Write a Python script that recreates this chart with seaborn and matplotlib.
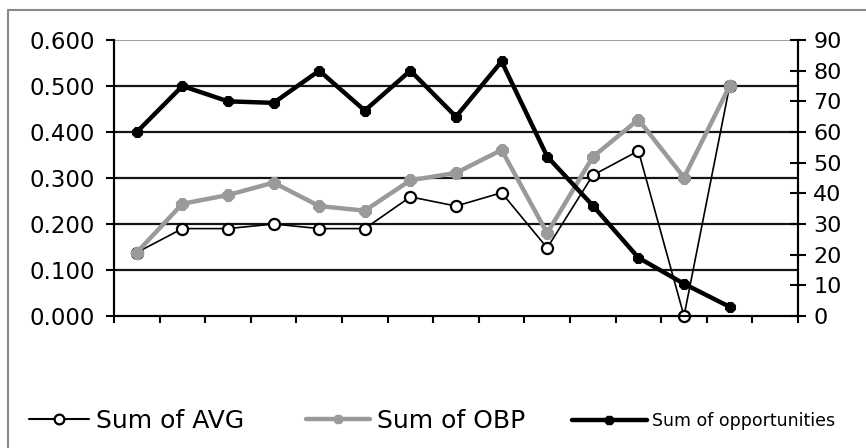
import matplotlib
matplotlib.use("Agg")
import matplotlib.pyplot as plt
from matplotlib.lines import Line2D
import seaborn as sns
import pandas as pd

# ---- data ----
games = list(range(1, 15))          # 14 plotted categories (15 slots on the axis)
n_slots = 15
avg = [0.138, 0.190, 0.190, 0.200, 0.190, 0.190, 0.259, 0.239, 0.268, 0.148, 0.306, 0.359, 0.000, 0.500]
obp = [0.138, 0.244, 0.263, 0.290, 0.239, 0.229, 0.295, 0.311, 0.361, 0.180, 0.346, 0.427, 0.301, 0.500]
opportunities = [60, 75, 70, 69.5, 80, 67, 80, 65, 83, 52, 36, 19, 10.5, 3]
left_ticks = [0.0, 0.1, 0.2, 0.3, 0.4, 0.5, 0.6]
right_ticks = [0, 10, 20, 30, 40, 50, 60, 70, 80, 90]
labels = ["Sum of AVG", "Sum of OBP", "Sum of opportunities"]

df = pd.DataFrame({"pos": [g - 1 for g in games], "AVG": avg, "OBP": obp, "OPP": opportunities})

sns.set_style("white")
plt.rcParams["font.family"] = ["DejaVu Sans"]
plt.rcParams["text.color"] = "black"

W, H = 866, 448
fig = plt.figure(figsize=(W / 100, H / 100), dpi=100)
ax = fig.add_axes([114 / W, 1 - 316 / H, 684 / W, 276 / H])
ax2 = ax.twinx()

# gridlines (left axis)
ax.set_axisbelow(True)
for v in left_ticks[1:-1]:
    ax.axhline(v, color="#151515", lw=1.6, zorder=0)
ax.axhline(left_ticks[-1], color="#8a8a8a", lw=1.2, zorder=0)

sns.lineplot(data=df, x="pos", y="AVG", ax=ax, color="black", linewidth=1.2,
             marker="o", markersize=8, markerfacecolor="white", markeredgecolor="black",
             markeredgewidth=1.6, clip_on=False, zorder=3, legend=False)
sns.lineplot(data=df, x="pos", y="OBP", ax=ax, color="#9a9a9a", linewidth=3.2,
             marker="8", markersize=9, markerfacecolor="#9a9a9a", markeredgecolor="#9a9a9a",
             clip_on=False, zorder=4, legend=False)
sns.lineplot(data=df, x="pos", y="OPP", ax=ax2, color="black", linewidth=3.2,
             marker="8", markersize=8.5, markerfacecolor="black", markeredgecolor="black",
             clip_on=False, zorder=5, legend=False)

ax.set_xlim(-0.5, n_slots - 0.5)
ax.set_ylim(0, 0.6)
ax2.set_ylim(0, 90)
ax.set_xticks([i - 0.5 for i in range(n_slots + 1)])
ax.set_xticklabels([])
ax.set_yticks(left_ticks)
ax.set_yticklabels([f"{v:.3f}" for v in left_ticks])
ax2.set_yticks(right_ticks)
ax2.set_yticklabels([str(v) for v in right_ticks])
for a in (ax, ax2):
    a.set_xlabel("")
    a.set_ylabel("")
    a.grid(False)

ax.tick_params(axis="x", direction="out", length=5, width=1.5, color="black", bottom=True)
ax.tick_params(axis="y", direction="out", length=5.5, width=1.5, color="black", left=True,
               labelsize=16.5, pad=8, labelcolor="black")
ax2.tick_params(axis="y", direction="inout", length=12, width=1.5, color="black", right=True,
                labelsize=16, pad=5, labelcolor="black")

for a in (ax, ax2):
    a.spines["top"].set_visible(False)
    for s in ("left", "right", "bottom"):
        a.spines[s].set_color("black")
        a.spines[s].set_linewidth(1.5)

# figure border (left and top)
fig.add_artist(Line2D([8 / W, 8 / W], [0, 1 - 10 / H], transform=fig.transFigure, color="#8a8a8a", lw=1.5))
fig.add_artist(Line2D([8 / W, 1], [1 - 10 / H, 1 - 10 / H], transform=fig.transFigure, color="#8a8a8a", lw=1.5))

# legend
h_avg = Line2D([], [], color="black", lw=1.5, marker="o", markersize=7,
               markerfacecolor="white", markeredgecolor="black", markeredgewidth=1.6)
h_obp = Line2D([], [], color="#9a9a9a", lw=3.2, marker="8", markersize=7,
               markerfacecolor="#9a9a9a", markeredgecolor="#9a9a9a")
h_opp = Line2D([], [], color="black", lw=3.2, marker="8", markersize=7,
               markerfacecolor="black", markeredgecolor="black")
ly = 1 - 421 / H
for h, lab, x0, fs, hl in [(h_avg, labels[0], 29, 18, 2.4),
                            (h_obp, labels[1], 306, 18, 2.55),
                            (h_opp, labels[2], 572, 12.5, 4.3)]:
    lg = fig.legend([h], [lab], loc="center left", bbox_to_anchor=(x0 / W, ly),
                    frameon=False, fontsize=fs, handlelength=hl, handletextpad=0.3,
                    borderpad=0, borderaxespad=0, labelcolor="black")

fig.savefig("out.png", dpi=100)
